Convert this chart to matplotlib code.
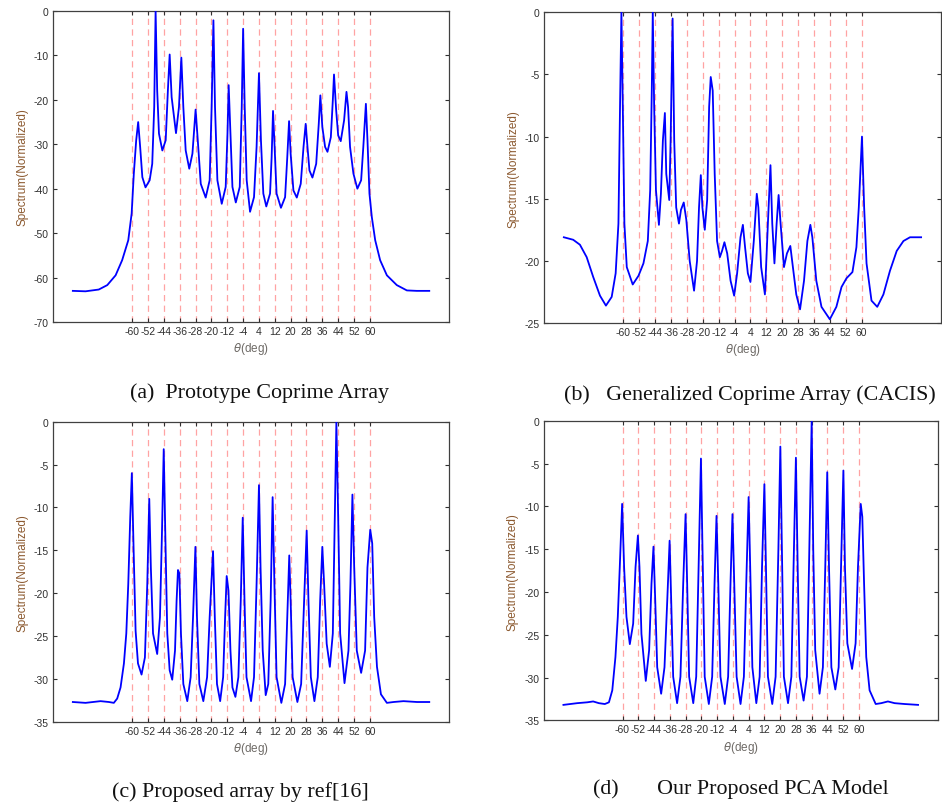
import matplotlib
matplotlib.use('Agg')
import matplotlib.pyplot as plt

plt.rcParams['axes.unicode_minus'] = False

# red reference lines (true DOAs) and x tick labels
doa_lines = [-60, -52, -44, -36, -28, -20, -12, -4, 4, 12, 20, 28, 36, 44, 52, 60]

# (a) prototype coprime array
theta_a = [-90.0, -83.6, -76.9, -72.6, -68.4, -65.1, -62.0, -60.3, -59.2, -58.0,
           -57.0, -56.0, -54.9, -53.3, -51.2, -49.9, -48.9, -48.2, -47.4, -46.5,
           -44.8, -43.1, -42.0, -41.1, -40.1, -37.9, -36.4, -35.2, -34.2, -33.0,
           -31.2, -29.6, -28.0, -26.9, -25.4, -22.9, -20.9, -19.9, -19.0, -18.2,
           -17.0, -14.8, -12.8, -11.9, -11.3, -10.4, -9.4, -7.7, -5.7, -4.7,
           -4.0, -3.2, -2.2, -0.5, 1.5, 2.8, 4.0, 5.0, 6.2, 7.7,
           9.6, 10.4, 11.1, 11.9, 12.9, 15.1, 17.2, 18.3, 19.2, 20.0,
           21.4, 23.1, 25.1, 26.5, 27.6, 28.5, 29.5, 31.0, 32.9, 34.2,
           35.0, 36.0, 37.4, 38.6, 40.3, 41.3, 41.9, 43.0, 44.0, 45.3,
           47.0, 48.2, 49.0, 50.0, 51.7, 53.7, 55.6, 56.7, 58.0, 58.8,
           59.8, 61.0, 62.7, 65.2, 68.6, 73.6, 78.7, 83.7, 90.0]
spec_a = [-63.0, -63.1, -62.7, -61.7, -59.5, -56.1, -51.6, -45.6, -36.6, -29.1,
          -25.0, -30.6, -37.4, -39.7, -38.1, -34.4, -21.6, 0.0, -17.9, -27.6,
          -31.4, -29.1, -17.9, -9.8, -19.4, -27.5, -21.6, -10.5, -21.6, -31.4,
          -35.5, -32.1, -22.2, -29.1, -38.9, -42.0, -38.1, -21.6, -2.1, -21.6,
          -38.1, -43.4, -39.6, -27.6, -16.7, -27.6, -39.6, -43.1, -39.6, -21.6,
          -4.0, -21.6, -38.1, -45.2, -41.9, -30.6, -14.0, -29.1, -41.1, -44.0,
          -41.1, -32.9, -22.5, -30.6, -41.1, -44.3, -41.9, -32.9, -24.8, -32.1,
          -40.4, -42.0, -38.9, -30.6, -25.4, -30.6, -35.9, -37.5, -34.4, -25.4,
          -19.0, -26.1, -30.6, -31.7, -28.4, -20.1, -14.3, -22.4, -28.0, -29.3,
          -24.6, -18.2, -21.6, -30.6, -36.6, -40.0, -38.1, -30.6, -20.9, -29.1,
          -41.1, -46.4, -51.6, -56.1, -59.5, -61.7, -62.9, -63.0, -63.0]

# (b) generalized coprime array (CACIS)
theta_b = [-90.0, -85.3, -81.9, -78.5, -75.2, -71.8, -68.8, -65.9, -63.9, -62.5,
           -61.7, -61.0, -60.3, -59.5, -58.3, -55.3, -52.4, -49.9, -47.7, -46.5,
           -45.7, -45.2, -44.5, -43.6, -42.1, -41.1, -40.1, -39.1, -38.4, -36.9,
           -36.2, -35.2, -34.4, -33.4, -32.0, -31.0, -29.6, -28.3, -26.6, -24.4,
           -22.9, -21.9, -21.0, -20.2, -19.0, -17.8, -16.8, -16.0, -15.0, -14.0,
           -12.8, -11.4, -10.3, -9.1, -7.7, -6.0, -4.2, -2.7, -1.0, 0.2,
           1.3, 2.7, 4.0, 5.7, 7.2, 8.0, 9.4, 11.3, 12.8, 14.1,
           15.0, 16.1, 17.2, 18.2, 19.2, 20.9, 22.4, 24.1, 25.4, 27.1,
           29.0, 31.0, 32.7, 34.2, 35.2, 37.2, 39.8, 44.0, 47.3, 49.9,
           52.4, 55.4, 57.4, 58.6, 60.2, 61.3, 62.5, 65.0, 67.9, 71.0,
           74.3, 77.7, 81.1, 84.4, 90.0]
spec_b = [-18.1, -18.3, -18.7, -19.7, -21.3, -22.8, -23.6, -22.9, -21.0, -17.0,
          -7.6, 0.0, -7.6, -17.0, -20.5, -21.9, -21.2, -20.2, -18.4, -14.3,
          -6.3, 0.0, -7.6, -14.3, -17.1, -14.6, -10.3, -8.1, -13.0, -15.1,
          -10.3, -0.5, -10.3, -15.7, -17.0, -15.9, -15.3, -16.7, -20.0, -22.4,
          -20.0, -15.7, -13.1, -15.7, -17.5, -15.1, -7.6, -5.2, -6.3, -13.0,
          -18.4, -19.7, -19.2, -18.5, -19.4, -21.6, -22.8, -21.0, -18.1, -17.1,
          -18.9, -21.0, -21.7, -18.4, -14.6, -15.7, -20.5, -22.7, -17.0, -12.3,
          -17.0, -20.2, -17.0, -14.7, -17.0, -20.5, -19.4, -18.8, -20.5, -22.7,
          -23.9, -21.6, -18.4, -17.1, -18.1, -21.6, -23.7, -24.7, -23.7, -22.1,
          -21.4, -20.9, -18.9, -15.7, -10.0, -15.7, -20.2, -23.2, -23.7, -22.7,
          -20.8, -19.2, -18.4, -18.1, -18.1]

# (c) proposed array by ref[16]
theta_c = [-90.0, -83.6, -76.0, -71.8, -69.3, -67.6, -65.9, -64.2, -63.0, -62.0,
           -61.0, -60.2, -59.3, -58.3, -57.1, -55.3, -53.6, -52.4, -51.4, -50.6,
           -49.5, -47.4, -46.0, -45.0, -44.1, -43.3, -42.3, -41.1, -39.8, -38.4,
           -37.6, -36.9, -36.2, -35.4, -34.2, -32.2, -30.5, -29.3, -28.1, -27.3,
           -26.1, -24.1, -22.2, -20.9, -19.2, -18.3, -17.2, -15.6, -14.1, -13.1,
           -12.3, -11.4, -10.4, -9.4, -7.9, -6.4, -5.2, -4.2, -3.3, -2.3,
           0.0, 1.5, 2.8, 4.0, 4.8, 5.9, 7.4, 8.7, 9.9, 10.9,
           11.8, 12.9, 15.3, 17.2, 18.3, 19.3, 20.0, 21.0, 23.4, 25.3,
           26.8, 28.1, 29.0, 30.2, 32.0, 33.7, 34.9, 36.0, 36.9, 38.2,
           39.8, 41.3, 42.3, 43.1, 44.0, 45.0, 47.2, 49.2, 50.2, 51.2,
           52.1, 53.4, 55.6, 57.6, 58.8, 60.2, 61.2, 62.2, 63.6, 65.6,
           68.6, 72.0, 77.0, 83.8, 90.0]
spec_c = [-32.7, -32.8, -32.6, -32.7, -32.8, -32.3, -31.0, -28.2, -24.7, -18.9,
          -11.1, -6.0, -15.0, -24.4, -28.2, -29.5, -27.5, -18.9, -9.0, -17.0,
          -24.7, -27.1, -22.8, -13.1, -3.2, -13.1, -24.7, -29.0, -30.1, -26.7,
          -20.9, -17.3, -17.7, -24.7, -30.6, -32.6, -29.8, -22.8, -14.6, -22.8,
          -30.6, -32.6, -29.8, -22.8, -15.1, -22.8, -30.6, -32.6, -29.8, -22.8,
          -18.0, -19.7, -26.7, -31.0, -32.1, -29.8, -20.9, -11.2, -20.9, -29.8,
          -32.6, -29.8, -18.9, -7.4, -17.0, -26.7, -31.9, -30.6, -20.9, -8.8,
          -18.9, -29.8, -32.8, -30.6, -22.8, -15.6, -20.9, -29.8, -32.7, -30.6,
          -20.9, -12.7, -20.9, -29.8, -32.6, -29.8, -20.9, -14.6, -18.9, -25.9,
          -28.6, -24.7, -11.1, 0.0, -11.1, -24.7, -30.5, -26.7, -18.9, -8.5,
          -17.0, -26.7, -29.3, -26.7, -17.0, -12.6, -14.2, -22.8, -28.6, -31.8,
          -32.8, -32.7, -32.6, -32.7, -32.7]

# (d) our proposed PCA model
theta_d = [-90.0, -83.0, -77.9, -74.9, -72.0, -69.0, -66.9, -65.2, -63.6, -62.4,
           -61.4, -60.2, -59.2, -58.0, -56.3, -54.6, -53.4, -52.2, -51.4, -50.4,
           -48.2, -46.5, -45.3, -44.3, -43.4, -42.4, -40.4, -38.7, -37.3, -36.1,
           -35.3, -34.3, -32.3, -30.6, -29.2, -28.0, -27.2, -26.2, -24.1, -22.6,
           -21.2, -20.2, -19.4, -18.3, -16.2, -14.5, -13.3, -12.3, -11.4, -10.3,
           -8.1, -6.4, -5.2, -4.2, -3.3, -2.1, -0.1, 1.6, 2.8, 4.0,
           4.8, 5.9, 7.9, 9.6, 10.8, 12.0, 12.8, 13.8, 16.0, 17.7,
           19.1, 20.1, 20.9, 21.9, 24.0, 25.7, 26.8, 28.0, 28.9, 29.9,
           31.9, 33.6, 34.8, 36.0, 36.8, 37.8, 40.0, 41.7, 42.9, 43.9,
           44.8, 46.0, 48.0, 49.7, 50.9, 52.1, 52.9, 54.1, 56.5, 58.3,
           59.5, 60.9, 61.7, 62.6, 63.7, 65.4, 68.5, 71.3, 74.7, 78.1,
           83.2, 90.0]
spec_d = [-33.2, -33.0, -32.9, -32.8, -33.0, -33.1, -32.9, -31.5, -27.6, -22.9,
          -17.1, -9.7, -17.1, -22.9, -26.1, -23.7, -17.1, -13.4, -17.1, -24.9,
          -30.4, -26.8, -19.0, -14.7, -21.0, -28.8, -31.9, -28.8, -21.0, -14.0,
          -21.0, -29.9, -33.0, -29.9, -19.0, -10.9, -19.0, -29.9, -33.0, -29.9,
          -15.1, -4.4, -15.1, -29.9, -33.1, -29.9, -19.0, -11.1, -19.0, -29.9,
          -33.1, -29.9, -19.0, -10.9, -19.0, -29.9, -33.1, -29.9, -19.0, -8.9,
          -17.1, -28.8, -33.0, -29.9, -17.1, -7.4, -17.1, -29.9, -33.1, -29.9,
          -15.1, -3.0, -15.1, -29.9, -33.0, -29.9, -17.1, -4.3, -17.1, -29.9,
          -32.7, -29.9, -15.1, 0.0, -15.1, -26.8, -31.9, -28.8, -17.1, -6.0,
          -17.1, -28.8, -31.4, -28.8, -17.1, -5.8, -17.1, -26.0, -29.0, -26.0,
          -17.1, -9.7, -11.2, -19.0, -27.6, -31.5, -33.1, -33.0, -32.8, -33.0,
          -33.1, -33.2]

captions = ['(a)  Prototype Coprime Array',
            '(b)   Generalized Coprime Array (CACIS)',
            '(c) Proposed array by ref[16]',
            '(d)       Our Proposed PCA Model']

panels = [
    (theta_a, spec_a, -70, 10, [0.0563, 0.5983, 0.4204, 0.3868]),
    (theta_b, spec_b, -25, 5, [0.5775, 0.5970, 0.4214, 0.3864]),
    (theta_c, spec_c, -35, 5, [0.0563, 0.1011, 0.4204, 0.3731]),
    (theta_d, spec_d, -35, 5, [0.5772, 0.1029, 0.4183, 0.3723]),
]
cap_pos = [(0.276, 0.511), (0.796, 0.509), (0.255, 0.015), (0.786, 0.019)]

lab_col = '#8c5a30'
tick_col = '#303030'

fig = plt.figure(figsize=(9.42, 8.04), dpi=100)

for i, (th, sp, ymin, step, rect) in enumerate(panels):
    ax = fig.add_axes(rect)
    for d in doa_lines:
        ax.axvline(d, color='#ff8c8c', lw=0.9, ls=(0, (5, 3.5)), alpha=0.8, zorder=1)
    ax.plot(th, sp, color='#0000ff', lw=1.3, zorder=3, solid_joinstyle='round')
    ax.set_xlim(-100, 100)
    ax.set_ylim(ymin, 0)
    ax.set_xticks(doa_lines)
    ax.set_xticklabels([str(d) for d in doa_lines])
    ax.set_yticks(list(range(ymin, 1, step)))
    ax.tick_params(direction='in', length=3, width=0.8, top=True, right=True,
                   labelsize=7.5, colors=tick_col, pad=3)
    for lbl in ax.get_xticklabels() + ax.get_yticklabels():
        lbl.set_family('Liberation Sans')
        lbl.set_color(tick_col)
    for s in ax.spines.values():
        s.set_color('#404040')
        s.set_linewidth(0.9)
    ax.set_ylabel('Spectrum(Normalized)', fontsize=8.5, color=lab_col,
                  family='Liberation Sans', labelpad=4)
    ax.set_xlabel(r'$\theta$(deg)', fontsize=8.5, color='#6e6a66',
                  family='Liberation Sans', labelpad=3)
    fig.text(cap_pos[i][0], cap_pos[i][1], captions[i], ha='center', va='center',
             fontsize=15.8, family='Liberation Serif', color='#111111')

plt.savefig('out.png', dpi=100)
